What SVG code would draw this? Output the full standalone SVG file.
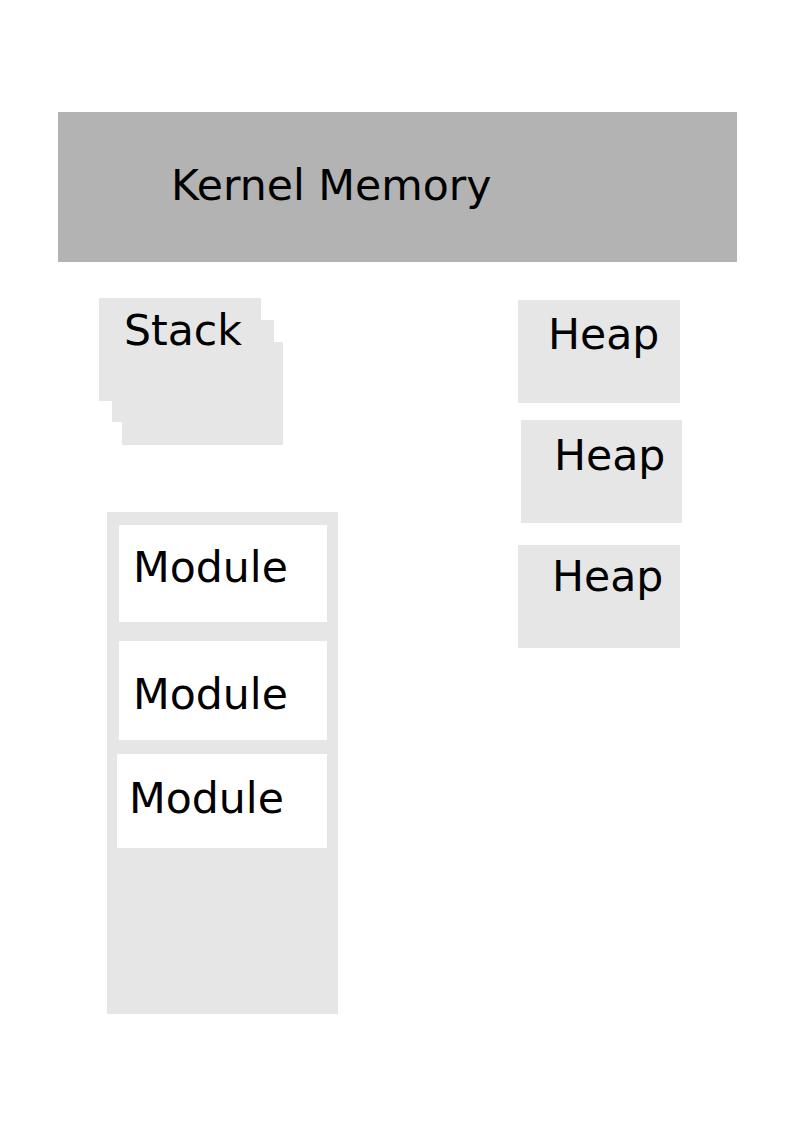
<svg xmlns="http://www.w3.org/2000/svg" width="794" height="1123" viewBox="0 0 794 1123">
<style>
.l{fill:#e6e6e6}
.w{fill:#ffffff}
text{font-family:"DejaVu Sans",sans-serif;font-size:42.6px;fill:#000}
</style>
<rect width="794" height="1123" fill="#fff"/>
<g id="kernel"><rect x="58" y="112" width="679" height="150" fill="#b3b3b3"/><text x="171" y="200">Kernel Memory</text></g>
<g id="stack">
<rect class="l" x="99" y="298" width="162" height="103"/>
<rect class="l" x="112" y="320" width="162" height="102"/>
<rect class="l" x="122" y="342" width="161" height="103"/>
<text x="124" y="345">Stack</text>
</g>
<g id="heap1"><rect class="l" x="518" y="300" width="162" height="103"/><text x="548" y="349">Heap</text></g>
<g id="heap2"><rect class="l" x="521" y="420" width="161" height="103"/><text x="554" y="470">Heap</text></g>
<g id="heap3"><rect class="l" x="518" y="545" width="162" height="103"/><text x="552" y="591">Heap</text></g>
<g id="modules"><rect class="l" x="107" y="512" width="231" height="502"/></g>
<g id="module1"><rect class="w" x="119" y="525" width="208" height="97"/><text x="133" y="582">Module</text></g>
<g id="module2"><rect class="w" x="119" y="641" width="208" height="99"/><text x="133" y="709">Module</text></g>
<g id="module3"><rect class="w" x="117" y="754" width="210" height="94"/><text x="129" y="813">Module</text></g>
<g id="connectors"/>
</svg>
